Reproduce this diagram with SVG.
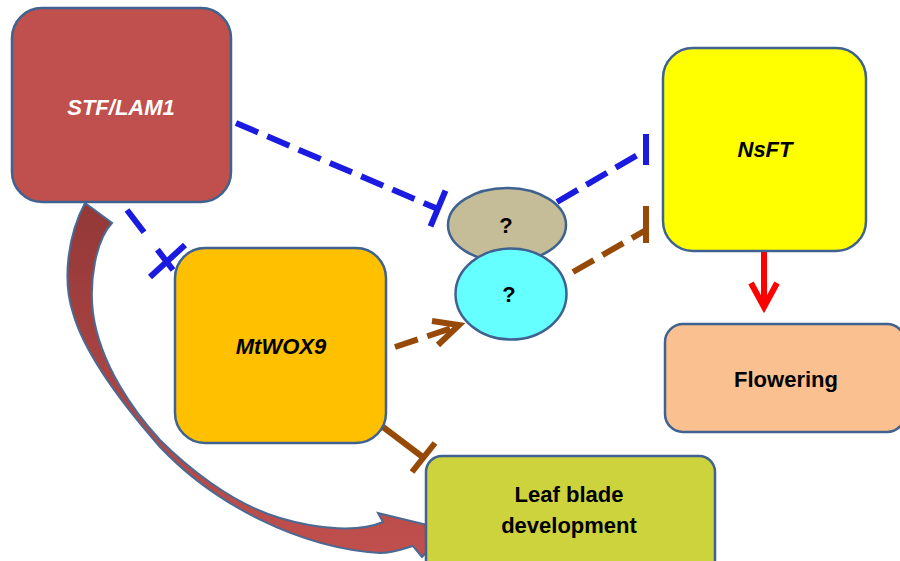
<svg xmlns="http://www.w3.org/2000/svg" width="900" height="561" viewBox="0 0 900 561">
<defs>
<style>
.box{stroke:#3f6290;stroke-width:2.5}
.lbl{font-family:"Liberation Sans",Arial,sans-serif;font-weight:bold;font-size:22px;text-anchor:middle}
.it{font-style:italic}
.blue{stroke:#1a1ae0;stroke-width:6;fill:none}
.brown{stroke:#974a08;stroke-width:6;fill:none}
.red{stroke:#ff0000;stroke-width:6;fill:none}
.dash{stroke-dasharray:24 10}
</style>
<linearGradient id="arrowGrad" gradientUnits="userSpaceOnUse" x1="0" y1="200" x2="0" y2="560">
<stop offset="0" stop-color="#933838"/>
<stop offset="1" stop-color="#c0504d"/>
</linearGradient>
</defs>
<rect width="900" height="561" fill="#ffffff"/>
<g id="connectors">
<path id="curved-arrow" d="M 85,203 C 68,235 62,280 73,313 C 82,345 110,390 160,447 C 215,505 300,548 380,553 C 395,553 405,548 413,546 L 422,557 L 448,530 L 378,513 L 383,522 C 360,532 320,530 280,518 C 230,503 185,465 160,440 C 135,413 100,365 93,313 C 89,280 96,240 112,223 Z" fill="url(#arrowGrad)" stroke="#4a6a94" stroke-width="2"/>
<line class="blue dash" x1="236" y1="123" x2="438" y2="209"/>
<line class="blue" x1="445.5" y1="190.6" x2="430.5" y2="226.4"/>
<line class="blue" x1="127" y1="210" x2="173" y2="270" stroke-dasharray="28 22"/>
<line class="blue" x1="150" y1="277" x2="185" y2="245"/>
<line class="blue dash" x1="557" y1="202" x2="646" y2="150"/>
<line class="blue" x1="646" y1="134" x2="646" y2="165"/>
<line class="brown dash" x1="573" y1="272" x2="646" y2="230"/>
<line class="brown" x1="646" y1="206" x2="646" y2="243"/>
<line class="brown dash" x1="395" y1="347" x2="458" y2="326"/>
<polyline class="brown" points="432,321 459,325 438,345" stroke-linejoin="miter"/>
<line class="brown" x1="383" y1="427" x2="424" y2="458"/>
<line class="brown" x1="435" y1="443" x2="412" y2="472"/>
<line class="red" x1="764" y1="251" x2="764" y2="305"/>
<polyline class="red" points="751,283 764,307 777,283"/>
</g>
<g id="node-stf">
<rect class="box" x="12" y="8" width="219" height="194" rx="30" fill="#c0504d"/>
<text class="lbl it" x="121" y="115" fill="#ffffff">STF/LAM1</text>
</g>
<g id="node-mtwox9">
<rect class="box" x="175" y="248" width="211" height="195" rx="30" fill="#ffc000"/>
<text class="lbl it" x="281" y="354" font-size="23" fill="#000000">MtWOX9</text>
</g>
<g id="node-nsft">
<rect class="box" x="663" y="48" width="203" height="203" rx="30" fill="#ffff00"/>
<text class="lbl it" x="765" y="157" fill="#000000">NsFT</text>
</g>
<g id="node-unknown1">
<ellipse class="box" cx="507" cy="225" rx="59" ry="37" fill="#c4bd97"/>
<text class="lbl" x="506" y="233" font-size="17" fill="#000000">?</text>
</g>
<g id="node-unknown2">
<ellipse class="box" cx="511" cy="294" rx="55.5" ry="45.5" fill="#66ffff"/>
<text class="lbl" x="509" y="302" font-size="17" fill="#000000">?</text>
</g>
<g id="node-flowering">
<rect class="box" x="665" y="324" width="240" height="108" rx="18" fill="#fac090"/>
<text class="lbl" x="786" y="387" fill="#000000">Flowering</text>
</g>
<g id="node-leaf">
<rect class="box" x="426" y="456" width="289" height="120" rx="16" fill="#cdd33d"/>
<text class="lbl" x="569" y="502" fill="#000000">Leaf blade</text>
<text class="lbl" x="569" y="533" fill="#000000">development</text>
</g>
</svg>
